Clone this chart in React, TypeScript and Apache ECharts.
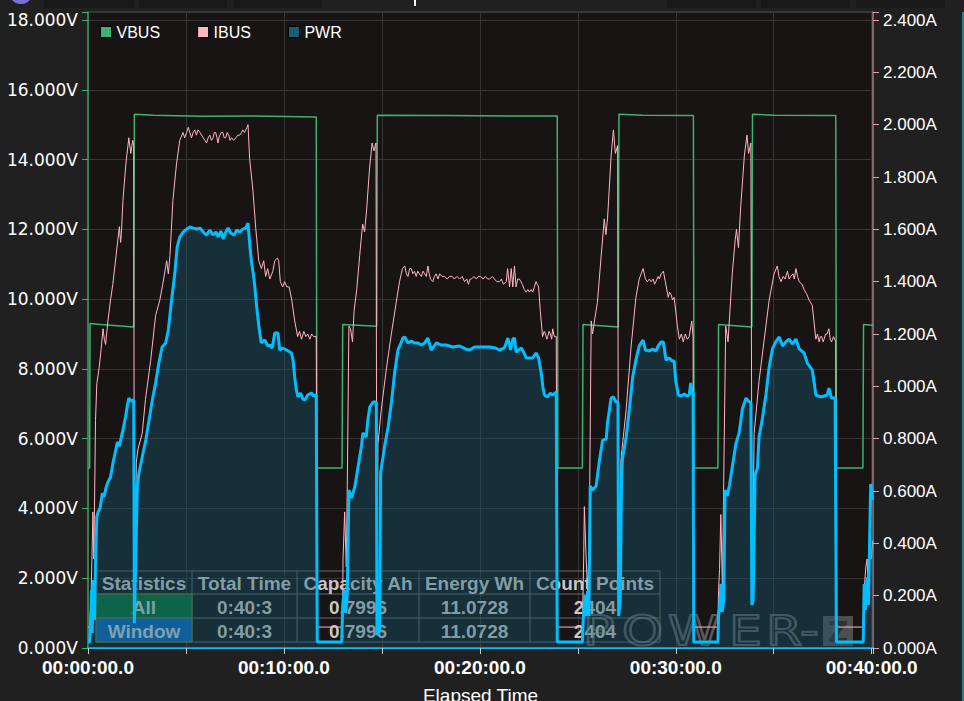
import React, { useEffect, useRef } from 'react';
import * as echarts from 'echarts';

// ---- data (seconds, value) ----
const vbusData: [number, number][] = [
  [0, 5.16], [5, 5.16], [6, 9.3], [40, 9.27], [100, 9.23], [140, 9.2], [142, 15.3], [200, 15.27], [350, 15.24], [500, 15.25], [699, 15.22], [701, 5.16],
  [778, 5.16], [780, 9.27], [884, 9.22], [886, 15.27], [1100, 15.26], [1300, 15.25], [1437, 15.25], [1439, 5.16],
  [1514, 5.16], [1516, 9.27], [1624, 9.2], [1626, 15.3], [1700, 15.27], [1854, 15.26], [1856, 5.16],
  [1929, 5.16], [1931, 9.27], [2033, 9.2], [2035, 15.3], [2100, 15.27], [2290, 15.26], [2292, 5.16],
  [2373, 5.16], [2375, 9.27], [2404, 9.25],
];

const ibusData: [number, number][] = [
  [0, 0.08], [5, 0.08], [9, 0.18], [12, 0.34], [15, 0.52], [18, 0.34], [23, 0.87], [27, 1.01], [34, 1.07], [40, 1.14], [46, 1.22], [50, 1.18], [54, 1.16], [61, 1.25], [69, 1.33], [76, 1.39], [86, 1.5], [96, 1.61], [100, 1.55], [102, 1.58], [107, 1.71], [116, 1.85], [125, 1.95], [131, 1.89], [137, 1.94], [140, 1.92],
  [142, 0.18], [148, 0.71], [153, 0.76], [166, 0.82], [176, 0.95], [192, 1.1], [207, 1.27], [220, 1.33], [229, 1.39], [241, 1.48], [246, 1.43], [251, 1.5], [260, 1.71], [271, 1.85], [281, 1.94], [291, 1.97],
  [296, 1.95], [302, 1.97], [307, 1.99], [312, 1.97], [317, 1.95], [322, 1.97], [327, 1.98], [332, 1.96], [337, 1.98], [343, 1.97], [348, 1.96], [353, 1.95], [358, 1.94], [363, 1.93], [368, 1.95], [373, 1.96], [378, 1.94], [383, 1.95], [387, 1.97], [391, 1.97], [395, 1.95], [398, 1.93], [401, 1.95], [404, 1.96], [408, 1.97], [413, 1.97], [417, 1.95], [422, 1.95], [426, 1.97], [431, 1.96], [435, 1.94], [440, 1.95], [446, 1.94], [453, 1.95], [459, 1.96], [465, 1.96], [470, 1.97], [474, 1.98], [479, 1.97], [483, 1.98], [487, 1.99], [490, 2.0],
  [495, 1.87], [505, 1.75], [514, 1.6], [523, 1.48], [531, 1.45], [538, 1.48], [544, 1.42], [550, 1.45], [557, 1.41], [566, 1.44], [572, 1.48], [580, 1.49], [584, 1.48], [589, 1.4], [596, 1.38], [602, 1.4], [609, 1.38], [616, 1.38], [624, 1.33], [633, 1.25], [642, 1.19], [648, 1.21], [654, 1.18], [661, 1.21], [667, 1.19], [673, 1.2], [679, 1.18], [685, 1.2], [691, 1.19], [699, 1.19], [702, 0.08],
  [777, 0.08], [780, 0.18], [781, 0.34], [786, 0.52], [791, 0.31], [794, 0.62], [799, 1.23], [804, 1.22], [810, 1.17], [815, 1.29], [823, 1.37], [832, 1.5], [841, 1.62], [847, 1.59], [853, 1.67], [862, 1.83], [870, 1.93], [876, 1.9], [882, 1.93],
  [885, 0.11], [888, 0.78], [898, 0.91], [914, 1.07], [929, 1.2], [945, 1.33], [954, 1.4], [963, 1.45], [970, 1.46], [975, 1.43], [980, 1.42], [985, 1.45], [990, 1.45], [995, 1.43], [1000, 1.44], [1005, 1.42], [1010, 1.44], [1015, 1.43], [1021, 1.42], [1026, 1.44], [1031, 1.43], [1036, 1.42], [1041, 1.46], [1045, 1.43], [1049, 1.41], [1056, 1.4], [1061, 1.42], [1066, 1.43], [1072, 1.41], [1077, 1.43], [1084, 1.42], [1092, 1.42], [1100, 1.41], [1107, 1.42], [1115, 1.42], [1122, 1.41], [1130, 1.42], [1138, 1.41], [1146, 1.42], [1153, 1.4], [1160, 1.41], [1165, 1.39], [1170, 1.41], [1174, 1.41], [1182, 1.42], [1189, 1.41], [1195, 1.42], [1202, 1.42], [1210, 1.41], [1217, 1.42], [1224, 1.41], [1230, 1.41], [1238, 1.42], [1245, 1.41], [1252, 1.4], [1260, 1.4], [1266, 1.41], [1272, 1.39], [1281, 1.4], [1285, 1.45], [1291, 1.38], [1296, 1.45], [1301, 1.38], [1306, 1.46], [1311, 1.38], [1316, 1.41], [1321, 1.41], [1326, 1.4], [1330, 1.39], [1336, 1.37], [1342, 1.36], [1347, 1.37], [1352, 1.36], [1357, 1.37], [1362, 1.36], [1367, 1.38], [1372, 1.4], [1376, 1.39], [1380, 1.38], [1385, 1.29], [1392, 1.19], [1397, 1.21], [1401, 1.2], [1405, 1.18], [1408, 1.19], [1412, 1.21], [1416, 1.2], [1420, 1.18], [1423, 1.22], [1428, 1.19], [1434, 1.19], [1437, 0.08],
  [1514, 0.08], [1518, 0.34], [1520, 0.54], [1525, 0.36], [1530, 0.22], [1535, 0.41], [1541, 1.25], [1545, 1.2], [1551, 1.25], [1560, 1.32], [1571, 1.49], [1581, 1.64], [1586, 1.58], [1591, 1.64], [1602, 1.88], [1609, 1.98], [1615, 1.89], [1622, 1.92],
  [1625, 0.15], [1632, 0.72], [1648, 0.91], [1663, 1.15], [1678, 1.34], [1688, 1.41], [1694, 1.43], [1700, 1.45], [1707, 1.41], [1713, 1.4], [1719, 1.41], [1724, 1.4], [1731, 1.41], [1735, 1.39], [1739, 1.4], [1746, 1.42], [1750, 1.41], [1755, 1.43], [1762, 1.44], [1768, 1.4], [1777, 1.34], [1781, 1.36], [1786, 1.35], [1790, 1.33], [1795, 1.34], [1805, 1.23], [1811, 1.18], [1817, 1.2], [1823, 1.17], [1829, 1.2], [1835, 1.18], [1841, 1.19], [1849, 1.25], [1853, 1.19], [1855, 0.08],
  [1929, 0.08], [1931, 0.22], [1934, 0.3], [1938, 0.51], [1943, 0.22], [1948, 0.76], [1953, 1.23], [1960, 1.17], [1966, 1.29], [1973, 1.43], [1982, 1.56], [1986, 1.6], [1992, 1.53], [1999, 1.69], [2010, 1.88], [2018, 1.96], [2023, 1.89], [2030, 1.93],
  [2034, 0.18], [2040, 0.82], [2055, 1.02], [2071, 1.18], [2086, 1.33], [2101, 1.43], [2111, 1.46], [2116, 1.42], [2122, 1.4], [2129, 1.42], [2135, 1.41], [2142, 1.44], [2147, 1.41], [2152, 1.42], [2159, 1.43], [2163, 1.41], [2168, 1.45], [2173, 1.42], [2178, 1.4], [2187, 1.39], [2193, 1.37], [2202, 1.35], [2208, 1.33], [2218, 1.31], [2229, 1.18], [2234, 1.2], [2239, 1.17], [2243, 1.19], [2247, 1.19], [2251, 1.17], [2254, 1.18], [2259, 1.2], [2263, 1.2], [2269, 1.22], [2273, 1.18], [2277, 1.17], [2283, 1.19], [2290, 1.17], [2292, 0.08],
  [2374, 0.08], [2377, 0.22], [2382, 0.31], [2386, 0.34], [2390, 0.22], [2395, 0.49], [2399, 0.34], [2403, 0.41],
];

const pwrData: [number, number][] = [
  [0, 0.43], [5, 0.43], [8, 1.65], [11, 4.16], [13, 1.07], [16, 4.87], [20, 2.01], [23, 6.31], [27, 9.39], [31, 9.75], [37, 10.03], [44, 11.11], [49, 10.82], [55, 11.46], [61, 11.89], [69, 12.25], [77, 13.33], [85, 14.19], [90, 14.76], [96, 14.47], [105, 15.41], [115, 16.55], [120, 17.27], [125, 17.91], [132, 17.7], [140, 17.77],
  [142, 1.79], [151, 11.54], [156, 12.54], [166, 13.69], [177, 14.9], [187, 16.34], [197, 17.77], [207, 18.99], [217, 20.42], [227, 21.57], [238, 21.86], [246, 22.79], [256, 24.94], [266, 26.87], [273, 28.73], [281, 29.45], [292, 29.81], [302, 30.02], [312, 30.17], [322, 30.09], [333, 30.02], [343, 30.09], [353, 29.81], [363, 29.59], [373, 29.95], [383, 29.59], [392, 29.81], [399, 29.45], [407, 29.88], [414, 29.31], [422, 29.81], [429, 30.09], [437, 29.74], [447, 29.59], [456, 29.95], [465, 29.81], [474, 30.02], [483, 30.09], [490, 30.45],
  [496, 28.73], [501, 27.59], [506, 26.87], [511, 25.87], [516, 24.58], [521, 23.5], [526, 22.57], [531, 21.86], [541, 22.07], [551, 21.64], [557, 21.71], [564, 21.5], [572, 22.57], [582, 22.57], [587, 21.35], [596, 21.5], [608, 21.35], [618, 21.21], [623, 21.14], [628, 20.64], [633, 19.42], [638, 18.49], [643, 17.99], [651, 18.27], [658, 17.84], [664, 17.77], [673, 18.13], [684, 18.27], [691, 18.06], [699, 18.13], [702, 0.43],
  [777, 0.43], [780, 3.08], [785, 4.16], [789, 2.51], [794, 3.8], [799, 11.32], [807, 10.75], [817, 11.54], [827, 12.97], [837, 14.4], [842, 15.41], [852, 15.12], [857, 16.34], [863, 17.27], [873, 17.63], [883, 17.63],
  [885, 0.93], [893, 1.29], [896, 12.54], [908, 14.4], [919, 15.84], [929, 17.56], [939, 19.71], [949, 21.35], [960, 21.93], [964, 22.21], [970, 22.29], [980, 21.86], [990, 22.0], [1000, 21.86], [1010, 21.86], [1021, 21.71], [1031, 21.86], [1041, 22.21], [1051, 21.35], [1067, 21.86], [1082, 21.71], [1097, 21.71], [1117, 21.57], [1138, 21.64], [1156, 21.43], [1168, 21.35], [1184, 21.57], [1209, 21.57], [1230, 21.57], [1248, 21.5], [1260, 21.35], [1275, 21.5], [1286, 22.21], [1294, 21.35], [1301, 22.14], [1306, 22.21], [1311, 21.21], [1327, 21.5], [1334, 21.21], [1342, 20.78], [1352, 20.78], [1362, 20.78], [1372, 21.14], [1380, 20.78], [1388, 19.71], [1393, 18.7], [1398, 18.13], [1407, 17.99], [1416, 18.27], [1423, 18.13], [1434, 18.34], [1437, 0.43],
  [1514, 0.43], [1517, 2.29], [1522, 3.8], [1526, 2.29], [1530, 4.08], [1534, 2.29], [1538, 11.61], [1545, 11.32], [1556, 11.61], [1566, 13.4], [1576, 14.9], [1587, 14.98], [1591, 16.12], [1602, 17.91], [1609, 17.99], [1617, 17.63], [1623, 17.63],
  [1625, 2.29], [1630, 3.44], [1634, 12.11], [1637, 13.61], [1648, 15.12], [1658, 17.13], [1668, 19.42], [1678, 20.64], [1688, 21.64], [1694, 21.86], [1700, 22.07], [1707, 21.35], [1719, 21.28], [1729, 21.43], [1739, 21.28], [1746, 21.64], [1755, 21.93], [1762, 21.93], [1770, 20.64], [1780, 20.78], [1789, 20.57], [1795, 20.57], [1800, 19.13], [1808, 18.13], [1817, 18.06], [1826, 18.2], [1835, 18.06], [1841, 18.13], [1846, 18.99], [1850, 18.2], [1853, 18.34], [1855, 0.43],
  [1929, 0.43], [1931, 2.29], [1935, 3.08], [1938, 4.59], [1942, 2.58], [1947, 3.44], [1951, 11.32], [1958, 10.89], [1964, 11.61], [1974, 13.11], [1984, 14.62], [1994, 15.41], [2004, 17.13], [2015, 17.91], [2022, 17.7], [2030, 17.56],
  [2033, 3.08], [2037, 3.44], [2043, 12.4], [2050, 12.9], [2055, 15.12], [2065, 16.41], [2076, 18.13], [2086, 20.14], [2096, 21.43], [2106, 21.93], [2117, 22.29], [2127, 21.64], [2137, 21.93], [2147, 22.14], [2157, 21.78], [2168, 22.14], [2178, 21.43], [2193, 21.14], [2203, 20.42], [2218, 19.92], [2224, 18.99], [2229, 18.13], [2244, 17.99], [2254, 18.06], [2264, 18.13], [2269, 18.63], [2277, 17.91], [2288, 17.91], [2292, 0.43],
  [2374, 0.43], [2377, 4.59], [2381, 2.72], [2386, 5.09], [2390, 3.08], [2397, 11.75], [2403, 10.61],
];

const seriesNames = ['VBUS', 'IBUS', 'PWR'];
const statsHeaders = ['Statistics', 'Total Time', 'Capacity Ah', 'Energy Wh', 'Count Points'];
const statsRows = [
  ['All', '0:40:3', '0.7996', '11.0728', '2404'],
  ['Window', '0:40:3', '0.7996', '11.0728', '2404'],
];
const watermarkLetters = ['P', 'O', 'W', 'E', 'R', '-'];

const pad = (n: number) => (n < 10 ? '0' + n : '' + n);
const fmtTime = (v: number) => {
  const s = Math.round(v);
  return `${pad(Math.floor(s / 3600))}:${pad(Math.floor((s % 3600) / 60))}:${pad(s % 60)}.0`;
};

const SANS = '"Liberation Sans", Arial, sans-serif';

export default function App() {
  const ref = useRef<HTMLDivElement>(null);
  useEffect(() => {
    if (!ref.current) return;
    const chart = echarts.init(ref.current, null, { renderer: 'svg' });

    // table geometry
    const colX = [96, 192, 297, 419, 530, 660];
    const rowY = [571, 594, 618, 642];
    const tableEls: any[] = [];
    rowY.forEach((y) => tableEls.push({ type: 'line', z: 1, shape: { x1: colX[0], y1: y, x2: colX[5], y2: y }, style: { stroke: '#666', lineWidth: 1 } }));
    colX.forEach((x) => tableEls.push({ type: 'line', z: 1, shape: { x1: x, y1: rowY[0], x2: x, y2: rowY[3] }, style: { stroke: '#666', lineWidth: 1 } }));
    tableEls.push({ type: 'rect', z: 1, shape: { x: 96, y: 594, width: 96, height: 24 }, style: { fill: '#0b6a2f', stroke: '#7c7a22', lineWidth: 1 } });
    tableEls.push({ type: 'rect', z: 1, shape: { x: 96, y: 618, width: 96, height: 24 }, style: { fill: '#0a63b5', stroke: '#7c7a22', lineWidth: 1 } });
    const textStyle = (text: string, x: number, y: number) => ({
      type: 'text', z: 1,
      style: { text, x, y, fill: 'rgba(210,210,210,0.95)', font: `bold 19px ${SANS}`, textAlign: 'center', textVerticalAlign: 'middle', align: 'center', verticalAlign: 'middle' },
    });
    statsHeaders.forEach((h, i) => tableEls.push(textStyle(h, (colX[i] + colX[i + 1]) / 2, 583)));
    statsRows.forEach((row, r) => row.forEach((c, i) => tableEls.push(textStyle(c, (colX[i] + colX[i + 1]) / 2, (rowY[r + 1] + rowY[r + 2]) / 2 + 1))));

    // watermark
    const wmX = [583, 622, 668, 729, 766, 800];
    const wmEls: any[] = watermarkLetters.map((l, i) => ({
      type: 'text', z: 1, x: wmX[i], y: 631, scaleX: 1.3,
      style: { text: l, x: 0, y: 0, font: `40px "DejaVu Sans"`, fill: 'rgba(0,0,0,0)', stroke: 'rgba(150,150,150,0.55)', lineWidth: 2, textAlign: 'left', textVerticalAlign: 'middle', align: 'left', verticalAlign: 'middle' },
    }));
    wmEls.push({ type: 'rect', z: 1, shape: { x: 823, y: 616, width: 30, height: 30 }, style: { fill: 'rgba(125,125,125,0.55)' } });
    wmEls.push({ type: 'text', z: 1, style: { text: 'Z', x: 838, y: 632, font: `bold 28px "DejaVu Sans"`, fill: 'rgba(40,40,40,0.8)', textAlign: 'center', textVerticalAlign: 'middle', align: 'center', verticalAlign: 'middle' } });

    // top strip & right edge
    const topEls: any[] = [
      { type: 'circle', shape: { cx: 21, cy: -8, r: 12 }, style: { fill: '#7a70d8' } },
      ...[[44, 134], [139, 227], [234, 322], [667, 756], [761, 850], [856, 945]].map(([a, b]) => ({ type: 'rect', shape: { x: a, y: 0, width: b - a, height: 8 }, style: { fill: '#181818' } })),
      { type: 'rect', shape: { x: 414, y: 0, width: 2, height: 6 }, style: { fill: '#ffffff' } },
      { type: 'rect', shape: { x: 962, y: 12, width: 2, height: 689 }, style: { fill: '#2a8088' } },
    ];

    chart.setOption({
      animation: false,
      backgroundColor: '#202020',
      legend: {
        left: 100, top: 24, padding: 0, itemWidth: 11, itemHeight: 11, itemGap: 37,
        textStyle: { color: '#ffffff', fontSize: 16, fontFamily: SANS },
        data: [
          { name: seriesNames[0], icon: 'rect', itemStyle: { color: '#3cb371', borderColor: '#000', borderWidth: 1 } },
          { name: seriesNames[1], icon: 'rect', itemStyle: { color: '#ffb6c1', borderColor: '#000', borderWidth: 1 } },
          { name: seriesNames[2], icon: 'rect', itemStyle: { color: '#1a5b75', borderColor: '#000', borderWidth: 1 } },
        ],
      },
      grid: {
        left: 88, right: 91, top: 12, bottom: 53, show: true, backgroundColor: '#181414',
        borderColor: '#5a4434', borderWidth: 1, containLabel: false, outerBoundsMode: 'none',
      },
      xAxis: {
        type: 'value', min: 0, max: 2404, interval: 300,
        name: 'Elapsed Time', nameLocation: 'middle', nameGap: 38,
        nameTextStyle: { color: '#ffffff', fontSize: 19, fontFamily: SANS },
        axisLine: { show: true, lineStyle: { color: '#19b5ea', width: 2 } },
        axisTick: { show: true, length: 6, lineStyle: { color: '#cccccc' } },
        axisLabel: {
          color: '#ffffff', fontSize: 19, fontWeight: 'bold', fontFamily: SANS, margin: 10,
          formatter: (v: number) => (v % 600 === 0 ? fmtTime(v) : ''),
        },
        splitLine: { show: true, lineStyle: { color: '#353535', width: 1 } },
      },
      yAxis: [
        {
          type: 'value', position: 'left', min: 0, max: 18 * 636 / 628, interval: 2,
          axisLine: { show: true, lineStyle: { color: '#3a9a5c', width: 1.5 } },
          axisTick: { show: true, length: 6, lineStyle: { color: '#3cb371' } },
          axisLabel: {
            color: '#ffffff', fontSize: 17, fontFamily: '"DejaVu Sans"', margin: 10,
            formatter: (v: number) => (Math.abs(v / 2 - Math.round(v / 2)) < 1e-6 ? v.toFixed(3) + 'V' : ''),
          },
          splitLine: { show: true, lineStyle: { color: '#353535', width: 1 } },
        },
        {
          type: 'value', position: 'right', min: 0, max: 2.4 * 636 / 628, interval: 0.2,
          axisLine: { show: true, lineStyle: { color: '#a0767e', width: 1.5 } },
          axisTick: { show: true, length: 6, lineStyle: { color: '#e0a0aa' } },
          axisLabel: {
            color: '#ffffff', fontSize: 17, fontFamily: SANS, margin: 10,
            formatter: (v: number) => (Math.abs(v * 5 - Math.round(v * 5)) < 1e-6 ? v.toFixed(3) + 'A' : ''),
          },
          splitLine: { show: false },
        },
        {
          type: 'value', show: false, min: 0, max: 45 * 636 / 628,
          splitLine: { show: false },
        },
      ],
      series: [
        {
          name: seriesNames[0], type: 'line', yAxisIndex: 0, data: vbusData, showSymbol: false, symbol: 'none',
          lineStyle: { color: '#3cb371', width: 1.5 }, itemStyle: { color: '#3cb371' }, z: 2,
        },
        {
          name: seriesNames[1], type: 'line', yAxisIndex: 1, data: ibusData, showSymbol: false, symbol: 'none',
          lineStyle: { color: '#ffb6c1', width: 1 }, itemStyle: { color: '#ffb6c1' }, z: 3,
        },
        {
          name: seriesNames[2], type: 'line', yAxisIndex: 2, data: pwrData, showSymbol: false, symbol: 'none',
          lineStyle: { color: '#00bfff', width: 3 }, itemStyle: { color: '#00bfff' },
          areaStyle: { color: 'rgba(22,90,115,0.55)', origin: 'start' }, z: 4,
        },
      ],
      graphic: { elements: [...topEls, ...tableEls, ...wmEls] },
    });
    return () => chart.dispose();
  }, []);
  return (
    <div style={{ position: 'fixed', left: 0, top: 0, width: 964, height: 701, background: '#202020' }}>
      <div ref={ref} style={{ width: 964, height: 701 }} />
    </div>
  );
}
